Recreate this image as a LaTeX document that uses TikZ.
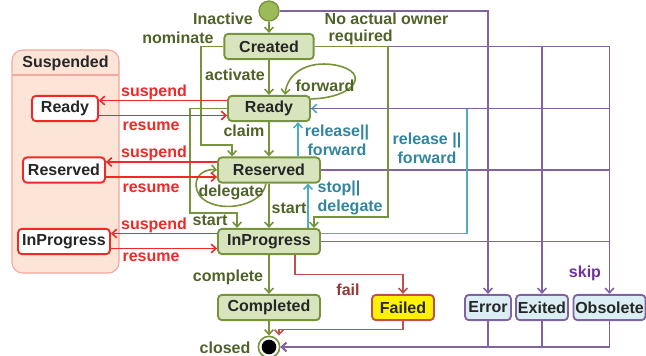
\documentclass[tikz,border=0pt]{standalone}
\usepackage{fontspec}
\setmainfont{Liberation Sans}
\usetikzlibrary{arrows.meta,calc}

\definecolor{stgreen}{HTML}{77933C}
\definecolor{stfill}{HTML}{D7E4BD}
\definecolor{initfill}{HTML}{9BBB59}
\definecolor{lblgreen}{HTML}{4F6228}
\definecolor{susred}{HTML}{F02828}
\definecolor{susfill}{HTML}{FCE4D6}
\definecolor{susedge}{HTML}{F4A6A0}
\definecolor{failred}{HTML}{C0504D}
\definecolor{faildark}{HTML}{953735}
\definecolor{relline}{HTML}{4BACC6}
\definecolor{reltext}{HTML}{31859C}
\definecolor{skipline}{HTML}{8064A2}
\definecolor{skiptext}{HTML}{7030A0}
\definecolor{endfill}{HTML}{DBEEF4}
\definecolor{txtdark}{HTML}{262626}

\tikzset{
  state/.style={draw=stgreen, fill=stfill, line width=1.4pt, rounded corners=3pt,
    text=txtdark, minimum height=19pt, inner sep=0pt},
  susstate/.style={state, draw=susred, fill=white},
  failstate/.style={state, draw=failred, fill=yellow},
  endstate/.style={state, draw=skipline, fill=endfill},
  tip/.style={-{Straight Barb[length=3.5pt,width=6.5pt]}},
  gline/.style={tip, draw=stgreen, line width=1.2pt},
  rline/.style={tip, draw=susred, line width=1.2pt},
  fline/.style={tip, draw=failred, line width=1.2pt},
  bline/.style={tip, draw=relline, line width=1.2pt},
  pline/.style={tip, draw=skipline, line width=1.2pt},
  glabel/.style={text=lblgreen},
  rlabel/.style={text=susred},
  blabel/.style={text=reltext, align=center, font=\fontsize{12}{14.5}\selectfont\bfseries},
}

\begin{document}
\begin{tikzpicture}[x=0.75pt, y=-0.75pt, font=\fontsize{12}{13}\selectfont\bfseries]
  \useasboundingbox (0,0) rectangle (646,356);

  % suspended container
  \draw[draw=susedge, fill=susfill, line width=0.8pt, rounded corners=8pt] (12,50) rectangle (119,273);
  \draw[draw=susedge, line width=0.8pt] (12,75) -- (119,75);
  \node[text=txtdark] (sustitle) at (65.5,63) {Suspended};

  % states
  \node[circle, draw=stgreen, fill=initfill, line width=1pt, minimum size=15pt, inner sep=0pt] (init) at (269,11) {};
  \node[state, minimum width=67pt] (created) at (269,46.5) {Created};
  \node[state, minimum width=61.5pt] (ready) at (269,108.5) {Ready};
  \node[state, minimum width=76.5pt] (reserved) at (269,170) {Reserved};
  \node[state, minimum width=76.5pt] (inprog) at (269,241.5) {InProgress};
  \node[state, minimum width=76.5pt] (completed) at (269,307.5) {Completed};
  \node[failstate, minimum width=46.5pt] (failed) at (403,307.5) {Failed};
  \node[endstate, minimum width=34.5pt] (error) at (488,307.5) {Error};
  \node[endstate, minimum width=39pt] (exited) at (542,307.5) {Exited};
  \node[endstate, minimum width=54pt] (obsolete) at (609.5,307.5) {Obsolete};
  \node[circle, draw=stgreen, fill=white, line width=1.2pt, minimum size=16pt, inner sep=0pt] (final) at (269,347) {};
  \fill[black] (final.center) circle (5.5pt);

  \node[susstate, minimum width=49.5pt] (sready) at (65,108.5) {Ready};
  \node[susstate, minimum width=61.5pt] (sreserved) at (64,170) {Reserved};
  \node[susstate, minimum width=69pt] (sinprog) at (64,241.5) {InProgress};

  % purple skip lines
  \draw[pline] (init.east) -| (error.north);
  \draw[pline] (created.east) -| (exited.north);
  \draw[pline] (created.east) -| (obsolete.north);
  \draw[skipline, line width=1.2pt] (reserved.east) -- (reserved.east -| obsolete.north);
  \draw[skipline, line width=1.2pt] (inprog.east) -- (inprog.east -| obsolete.north);
  \draw[pline] (error.south) |- (final.east);
  \draw[pline] (exited.south) |- (final.east);
  \draw[pline] (obsolete.south) |- (final.east);

  % blue lines
  \draw[bline] ($(inprog.east)+(0,-8)$) -| (467,108.5) -- (ready.east);
  \draw[skipline, line width=1.2pt] (310,108.5) -- (ready.east -| obsolete.north);
  \draw[bline] ($(reserved.north)+(29,0)$) -- ($(ready.south)+(29,0)$);
  \draw[bline] ($(inprog.north)+(39,0)$) -- ($(reserved.south)+(39,0)$);

  % green lines
  \draw[gline] (init) -- (created);
  \draw[gline] (created) -- (ready);
  \draw[gline] (ready) -- (reserved);
  \draw[gline] (reserved) -- (inprog);
  \draw[gline] (inprog) -- (completed);
  \draw[gline] (completed) -- (final);
  \draw[gline] (created.west) -| (201,145) -| ($(reserved.north west)+(15,0)$);
  \draw[gline] (ready.west) -| (190,213) -| ($(inprog.north west)+(20,0)$);
  \draw[gline] (created.east) -| (388,217) -| ($(inprog.north east)+(-7,0)$);
  \draw[gline] ($(ready.north east)+(0,4)$) .. controls (355,98) and (372,72) .. (335,65)
    .. controls (305,60) and (287,75) .. ($(ready.north)+(16,0)$);
  \draw[gline] ($(reserved.south)+(-3,0)$) .. controls (262,208) and (215,214) .. (200,196)
    .. controls (190,182) and (200,168) .. (reserved.west);

  % red lines
  \draw[rline] ($(ready.west)+(0,-8)$) -- ($(sready.east)+(0,-8)$);
  \draw[rline] ($(sready.east)+(0,7)$) -- ($(ready.west)+(0,7)$);
  \draw[rline] ($(reserved.west)+(0,-8)$) -- ($(sreserved.east)+(0,-8)$);
  \draw[rline] ($(sreserved.east)+(0,7)$) -- ($(reserved.west)+(0,7)$);
  \draw[rline] ($(inprog.west)+(0,-8)$) -- ($(sinprog.east)+(0,-8)$);
  \draw[rline] ($(sinprog.east)+(0,7)$) -- ($(inprog.west)+(0,7)$);
  \draw[fline] ($(inprog.south)+(26,0)$) |- (403,274.5) -- (failed.north);
  \draw[fline] (failed.south) |- (279,329.5) -- ($(final.north)+(10,0)$);

  % labels
  \node[glabel] (linactive) at (223,19) {Inactive};
  \node[glabel] (lnominate) at (178,38) {nominate};
  \node[glabel] (lactivate) at (235,75) {activate};
  \node[glabel] (lforward) at (325,86) {forward};
  \node[glabel] (lclaim) at (244,131) {claim};
  \node[glabel] (ldelegate) at (231,192) {delegate};
  \node[glabel] (lstarta) at (210,220) {start};
  \node[glabel] (lstartb) at (289,208) {start};
  \node[glabel, anchor=west, align=left, font=\fontsize{12}{12.75}\selectfont\bfseries] (lnoowner) at (320,28.5) {No actual owner\\\hspace{3pt}required};
  \node[glabel] (lcomplete) at (228,277) {complete};
  \node[glabel] (lclosed) at (225,348) {closed};
  \node[blabel] (lrelease) at (337,140) {release||\\forward};
  \node[blabel] (lreleaseb) at (427,148.5) {release ||\\forward};
  \node[blabel, anchor=west, align=left] (lstop) at (313,198) {stop||\\delegate};
  \node[text=faildark] (lfail) at (348,290) {fail};
  \node[text=skiptext] (lskip) at (585,273) {skip};
  \node[rlabel] (lsuspa) at (154,92) {suspend};
  \node[rlabel] (lresa) at (151,126) {resume};
  \node[rlabel] (lsuspb) at (154,153) {suspend};
  \node[rlabel] (lresb) at (151,188) {resume};
  \node[rlabel] (lsuspc) at (154,225) {suspend};
  \node[rlabel] (lresc) at (151,257) {resume};
\end{tikzpicture}
\end{document}
